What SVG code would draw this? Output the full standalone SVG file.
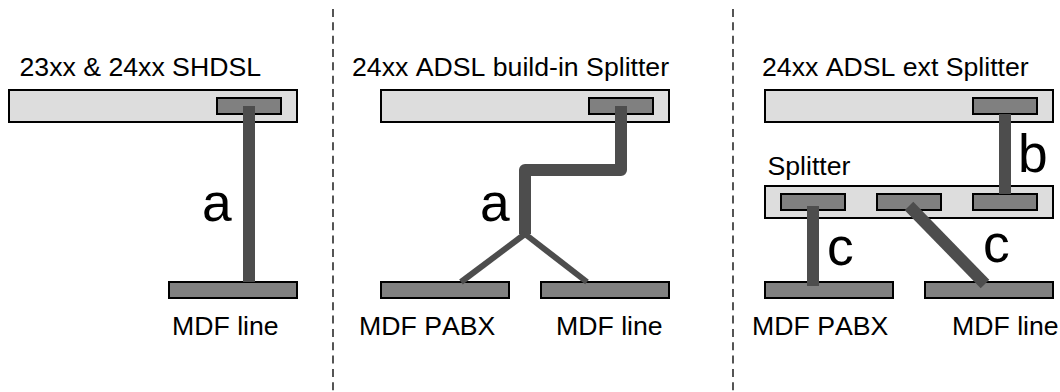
<svg xmlns="http://www.w3.org/2000/svg" width="1060" height="392" viewBox="0 0 1060 392">
<style>
.box{fill:#dddddd;stroke:#000;stroke-width:2}
.port{fill:#808080;stroke:#000;stroke-width:2}
.bar{fill:none;stroke:#4d4d4d;stroke-width:12}
.thin{fill:none;stroke:#4d4d4d;stroke-width:6}
.div{fill:none;stroke:#000;stroke-width:1.33;stroke-dasharray:8 5.33}
text{font-family:"Liberation Sans",Arial,sans-serif;fill:#000;font-kerning:none}
.t{font-size:26.67px}
.big{font-size:53.33px}
</style>
<g id="dividers"><path class="div" d="M333 9V392"/><path class="div" d="M733 9V392"/></g>
<g id="panel1-device"><rect class="box" x="9" y="90" width="288" height="32"/><rect class="port" x="217" y="98" width="64" height="16"/><text class="t" x="19.5" y="76">23xx &amp; 24xx SHDSL</text></g>
<g id="panel1-mdf-line"><rect class="port" x="169" y="282" width="128" height="16"/><text class="t" x="172" y="335">MDF line</text></g>
<g id="panel2-device"><rect class="box" x="381" y="90" width="288" height="32"/><rect class="port" x="589" y="98" width="64" height="16"/><text class="t" x="352" y="76">24xx ADSL build-in Splitter</text></g>
<g id="panel2-mdf-pabx"><rect class="port" x="381" y="282" width="128" height="16"/><text class="t" x="359" y="335">MDF PABX</text></g>
<g id="panel2-mdf-line"><rect class="port" x="541" y="282" width="128" height="16"/><text class="t" x="556" y="335">MDF line</text></g>
<g id="panel3-device"><rect class="box" x="765" y="90" width="288" height="32"/><rect class="port" x="973" y="98" width="64" height="16"/><text class="t" x="762" y="76">24xx ADSL ext Splitter</text></g>
<g id="panel3-splitter"><rect class="box" x="765" y="186" width="288" height="32"/><rect class="port" x="781" y="194" width="64" height="16"/><rect class="port" x="877" y="194" width="64" height="16"/><rect class="port" x="973" y="194" width="64" height="16"/><text class="t" x="767.5" y="175">Splitter</text></g>
<g id="panel3-mdf-pabx"><rect class="port" x="765" y="282" width="128" height="16"/><text class="t" x="752" y="335">MDF PABX</text></g>
<g id="panel3-mdf-line"><rect class="port" x="925" y="282" width="128" height="16"/><text class="t" x="952" y="335">MDF line</text></g>
<g id="connectors">
<path class="bar" d="M249 106V282"/>
<path class="bar" stroke-linejoin="round" d="M621 106V170H525V234"/>
<path class="thin" d="M525 234L461 282"/>
<path class="thin" d="M525 234L587 282"/>
<path class="bar" d="M1005 114V194"/>
<path class="bar" d="M813 206V286"/>
<path class="bar" d="M909 206L985 284"/>
</g>
<g id="labels">
<text class="big" x="202" y="221">a</text>
<text class="big" x="480" y="221">a</text>
<text class="big" x="1018" y="172">b</text>
<text class="big" x="827" y="265">c</text>
<text class="big" x="983" y="262">c</text>
</g>
</svg>
